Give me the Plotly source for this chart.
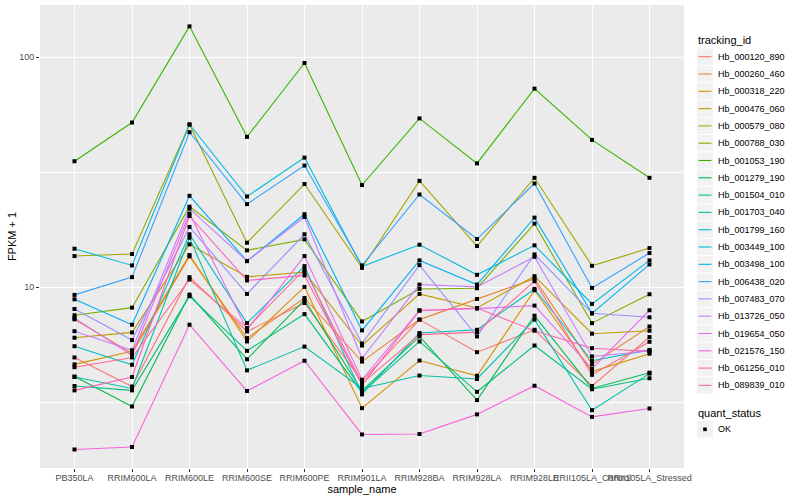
import plotly.graph_objects as go

samples = ["PB350LA", "RRIM600LA", "RRIM600LE", "RRIM600SE", "RRIM600PE", "RRIM901LA",
           "RRIM928BA", "RRIM928LA", "RRIM928LE", "RRII105LA_Control", "RRII105LA_Stressed"]

tracking_ids = ["Hb_000120_890", "Hb_000260_460", "Hb_000318_220", "Hb_000476_060", "Hb_000579_080",
                "Hb_000788_030", "Hb_001053_190", "Hb_001279_190", "Hb_001504_010", "Hb_001703_040",
                "Hb_001799_160", "Hb_003449_100", "Hb_003498_100", "Hb_006438_020", "Hb_007483_070",
                "Hb_013726_050", "Hb_019654_050", "Hb_021576_150", "Hb_061256_010", "Hb_089839_010"]

colors = ["#F8766D", "#EA8331", "#D89000", "#C09B00", "#A3A500", "#7CAE00", "#39B600", "#00BB4E",
          "#00BF7D", "#00C1A3", "#00BFC4", "#00BAE0", "#00B0F6", "#35A2FF", "#9590FF", "#C77CFF",
          "#E76BF3", "#FA62DB", "#FF62BC", "#FF6C91"]

quant_levels = ["OK"]

# FPKM + 1 per tracking_id, in sample order
Hb_000120_890 = [4.95, 3.70, 11.06, 6.42, 8.54, 3.91, 7.23, 5.22, 6.53, 3.72, 6.07]
Hb_000260_460 = [7.25, 5.15, 13.62, 6.01, 8.98, 4.75, 7.23, 8.89, 10.89, 4.62, 6.75]
Hb_000318_220 = [4.62, 5.26, 13.80, 5.81, 10.03, 2.98, 4.80, 4.12, 9.70, 4.30, 5.14]
Hb_000476_060 = [6.03, 6.36, 15.36, 11.09, 11.63, 5.58, 9.35, 8.12, 11.17, 6.28, 6.47]
Hb_000579_080 = [13.66, 13.94, 51.0, 15.61, 28.1, 12.14, 29.0, 15.10, 29.9, 12.39, 14.80]
Hb_000788_030 = [7.55, 8.15, 22.4, 14.46, 16.15, 7.10, 9.83, 9.90, 18.9, 6.98, 9.32]
Hb_001053_190 = [35.3, 52.0, 136.2, 45.05, 94.4, 27.8, 54.2, 34.55, 73.0, 43.7, 29.9]
Hb_001279_190 = [4.09, 3.03, 9.29, 4.86, 8.80, 3.54, 6.11, 3.23, 7.52, 3.63, 4.25]
Hb_001504_010 = [3.72, 3.56, 9.14, 5.29, 7.64, 3.48, 5.81, 3.51, 5.58, 3.60, 4.02]
Hb_001703_040 = [4.07, 3.63, 16.42, 4.35, 5.52, 3.63, 4.13, 3.99, 7.23, 2.92, 4.21]
Hb_001799_160 = [5.54, 4.60, 16.99, 6.98, 12.35, 3.42, 6.32, 6.53, 9.83, 4.79, 5.34]
Hb_003449_100 = [14.70, 12.44, 51.0, 24.8, 36.6, 12.29, 15.30, 11.32, 15.21, 8.46, 13.08]
Hb_003498_100 = [8.86, 6.87, 24.97, 12.99, 20.77, 6.49, 13.08, 10.27, 20.07, 7.70, 12.56]
Hb_006438_020 = [9.26, 11.06, 47.2, 22.97, 33.8, 12.44, 25.3, 16.2, 28.25, 9.93, 14.08]
Hb_007483_070 = [8.04, 5.89, 18.28, 9.35, 16.99, 5.69, 12.48, 6.11, 13.89, 7.70, 7.40]
Hb_013726_050 = [6.44, 5.32, 21.97, 12.99, 20.2, 4.90, 10.27, 10.03, 13.56, 5.00, 5.28]
Hb_019654_050 = [7.34, 5.05, 20.9, 6.53, 13.66, 3.96, 7.94, 8.07, 8.32, 4.42, 7.94]
Hb_021576_150 = [1.97, 2.02, 6.87, 3.54, 4.79, 2.29, 2.30, 2.80, 3.73, 2.73, 2.97]
Hb_061256_010 = [3.56, 4.07, 20.4, 10.70, 11.25, 3.76, 7.90, 8.12, 6.47, 5.43, 5.26]
Hb_089839_010 = [4.49, 4.95, 10.80, 6.64, 11.95, 3.82, 6.22, 6.38, 10.62, 4.16, 5.79]

series = [Hb_000120_890, Hb_000260_460, Hb_000318_220, Hb_000476_060, Hb_000579_080,
          Hb_000788_030, Hb_001053_190, Hb_001279_190, Hb_001504_010, Hb_001703_040,
          Hb_001799_160, Hb_003449_100, Hb_003498_100, Hb_006438_020, Hb_007483_070,
          Hb_013726_050, Hb_019654_050, Hb_021576_150, Hb_061256_010, Hb_089839_010]

y_ticks = [10, 100]
y_minor = [3.1623, 31.623]

FONT = "Liberation Sans, Arial, sans-serif"
W, H = 800, 500
ML, MR, MT, MB = 40, 116, 5, 32
PW, PH = W - ML - MR, H - MT - MB


def px(xp):
    return (xp - ML) / PW


def py(yp):
    return (H - MB - yp) / PH


fig = go.Figure()
for name, vals, col in zip(tracking_ids, series, colors):
    fig.add_trace(go.Scatter(
        x=samples, y=vals, mode="lines", name=name,
        line=dict(color=col, width=1.1), showlegend=False,
        hovertemplate=name + "<br>%{x}: %{y}<extra></extra>"))

all_x = [s for _ in series for s in samples]
all_y = [v for vals in series for v in vals]
fig.add_trace(go.Scatter(
    x=all_x, y=all_y, mode="markers", name="OK", showlegend=False,
    marker=dict(symbol="square", size=4, color="#000000"), hoverinfo="skip"))

# ggplot-style legend built from the same names/colours
shapes = []
annotations = []
key_x0, key_x1 = 697, 713
row0, row_h = 56.7, 17.3
annotations.append(dict(text="tracking_id", x=px(696), y=py(40.5), xref="paper", yref="paper",
                        xanchor="left", yanchor="middle", showarrow=False,
                        font=dict(size=11, color="#000000", family=FONT)))
for i, (name, col) in enumerate(zip(tracking_ids, colors)):
    yc = row0 + i * row_h
    shapes.append(dict(type="rect", xref="paper", yref="paper",
                       x0=px(key_x0), x1=px(key_x1), y0=py(yc - 8.2), y1=py(yc + 8.2),
                       fillcolor="#F2F2F2", line=dict(width=0), layer="above"))
    shapes.append(dict(type="line", xref="paper", yref="paper",
                       x0=px(key_x0 + 1.5), x1=px(key_x1 - 1.5), y0=py(yc), y1=py(yc),
                       line=dict(color=col, width=1.1), layer="above"))
    annotations.append(dict(text=name, x=px(716), y=py(yc), xref="paper", yref="paper",
                            xanchor="left", yanchor="middle", showarrow=False,
                            font=dict(size=9, color="#000000", family=FONT)))

annotations.append(dict(text="quant_status", x=px(696), y=py(412.5), xref="paper", yref="paper",
                        xanchor="left", yanchor="middle", showarrow=False,
                        font=dict(size=11, color="#000000", family=FONT)))
for j, lev in enumerate(quant_levels):
    yc = 429.3 + j * row_h
    shapes.append(dict(type="rect", xref="paper", yref="paper",
                       x0=px(key_x0), x1=px(key_x1), y0=py(yc - 8.2), y1=py(yc + 8.2),
                       fillcolor="#F2F2F2", line=dict(width=0), layer="above"))
    shapes.append(dict(type="rect", xref="paper", yref="paper",
                       x0=px(703.2), x1=px(706.8), y0=py(yc - 1.8), y1=py(yc + 1.8),
                       fillcolor="#000000", line=dict(width=0), layer="above"))
    annotations.append(dict(text=lev, x=px(716), y=py(yc), xref="paper", yref="paper",
                            xanchor="left", yanchor="middle", showarrow=False,
                            font=dict(size=9, color="#000000", family=FONT)))

fig.update_layout(
    width=W, height=H,
    margin=dict(l=ML, r=MR, t=MT, b=MB, autoexpand=False),
    paper_bgcolor="#FFFFFF", plot_bgcolor="#EBEBEB",
    font=dict(family=FONT, size=9, color="#4D4D4D"),
    showlegend=False,
    shapes=shapes, annotations=annotations,
)
fig.update_xaxes(
    type="category", categoryorder="array", categoryarray=samples,
    range=[-0.6, len(samples) - 0.4],
    showgrid=True, gridcolor="#FFFFFF", gridwidth=1.1,
    ticks="outside", ticklen=3, tickcolor="#333333", tickangle=0,
    tickfont=dict(size=9, color="#4D4D4D"), ticklabelstandoff=-2,
    title=dict(text="sample_name", font=dict(size=11, color="#000000"), standoff=2),
    zeroline=False, showline=False, automargin=False)
fig.update_yaxes(
    type="log", range=[0.214, 2.227],
    tickmode="array", tickvals=y_ticks, ticktext=[str(t) for t in y_ticks],
    showgrid=True, gridcolor="#FFFFFF", gridwidth=1.1,
    minor=dict(tickmode="array", tickvals=y_minor, showgrid=True, gridcolor="#FFFFFF", gridwidth=0.5, ticks=""),
    ticks="outside", ticklen=3, tickcolor="#333333",
    tickfont=dict(size=9, color="#4D4D4D"),
    title=dict(text="FPKM + 1", font=dict(size=11, color="#000000"), standoff=0),
    zeroline=False, showline=False, automargin=False)

fig.write_html("out.html", config={"displayModeBar": False},
               post_script="document.body.style.margin='0';document.body.style.overflow='hidden';")
